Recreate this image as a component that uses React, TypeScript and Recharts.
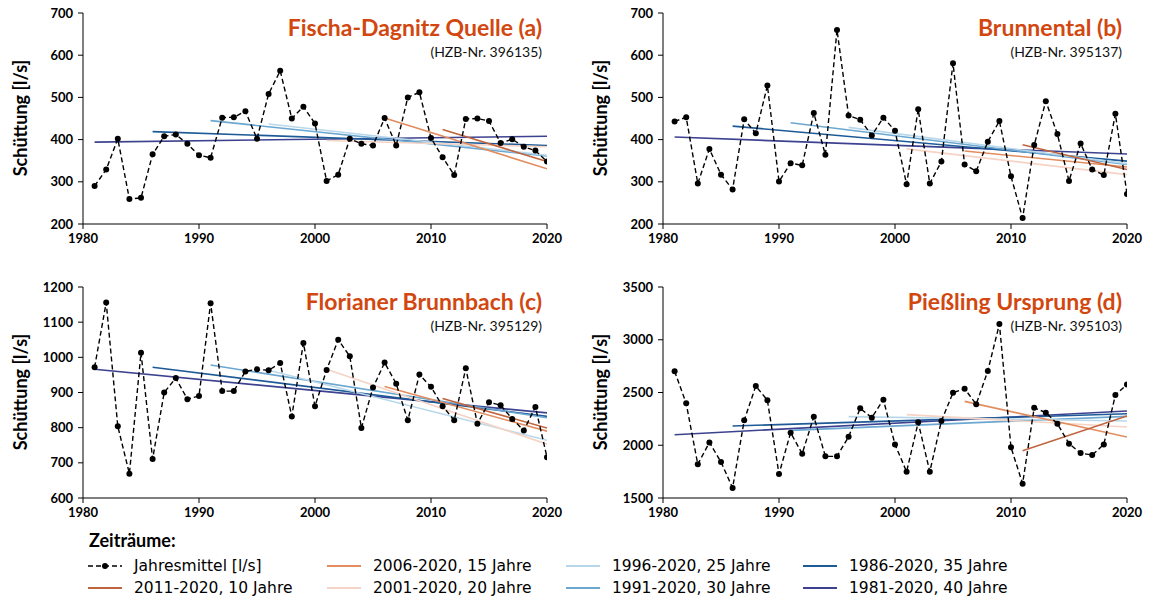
import React from 'react';
import { LineChart, Line, XAxis, YAxis } from 'recharts';

const YEARS = [
  1981, 1982, 1983, 1984, 1985, 1986, 1987, 1988, 1989, 1990,
  1991, 1992, 1993, 1994, 1995, 1996, 1997, 1998, 1999, 2000,
  2001, 2002, 2003, 2004, 2005, 2006, 2007, 2008, 2009, 2010,
  2011, 2012, 2013, 2014, 2015, 2016, 2017, 2018, 2019, 2020,
];

// Jahresmittel [l/s]
const FISCHA = [
  290, 329, 402, 259, 262, 365, 408, 412, 390, 363,
  357, 452, 453, 467, 402, 508, 563, 450, 478, 438,
  302, 317, 402, 390, 386, 451, 386, 500, 512, 404,
  358, 316, 449, 450, 444, 392, 401, 383, 374, 348,
];
const BRUNNENTAL = [
  443, 453, 296, 378, 317, 282, 448, 415, 528, 301,
  344, 339, 463, 364, 660, 457, 447, 410, 452, 421,
  294, 472, 296, 348, 581, 341, 325, 395, 444, 313,
  214, 387, 491, 413, 302, 391, 329, 316, 461, 271,
];
const FLORIANER = [
  972, 1156, 804, 669, 1013, 711, 900, 941, 881, 890,
  1154, 904, 904, 960, 966, 963, 984, 832, 1041, 861,
  964, 1050, 1003, 799, 914, 985, 925, 821, 951, 916,
  861, 821, 969, 811, 872, 864, 825, 792, 859, 716,
];
const PIESSLING = [
  2701, 2397, 1819, 2027, 1841, 1595, 2236, 2562, 2426, 1727,
  2119, 1920, 2271, 1895, 1895, 2081, 2350, 2261, 2432, 2008,
  1749, 2217, 1749, 2230, 2498, 2536, 2388, 2704, 3149, 1980,
  1636, 2356, 2309, 2204, 2015, 1926, 1907, 2008, 2476, 2577,
];

const PERIOD_START = [2011, 2006, 2001, 1996, 1991, 1986, 1981];
const PERIOD_LABELS = [
  '2011-2020, 10 Jahre', '2006-2020, 15 Jahre', '2001-2020, 20 Jahre', '1996-2020, 25 Jahre',
  '1991-2020, 30 Jahre', '1986-2020, 35 Jahre', '1981-2020, 40 Jahre',
];
const PERIOD_COLORS = ['#c0643d', '#e28d5f', '#f5d3c5', '#b8d7ea', '#6aa7d1', '#1d5a97', '#3d4290'];

// trend lines: [value at start year, value at 2020]
const TREND_A = [[424, 348], [451, 331], [398, 383], [437, 363], [445, 361], [419, 386], [394, 408]];
const TREND_B = [[388, 329], [373, 335], [378, 317], [429, 343], [440, 341], [432, 349], [406, 366]];
const TREND_C = [[883, 799], [917, 790], [966, 753], [963, 764], [978, 828], [972, 832], [966, 842]];
const TREND_D = [[1948, 2277], [2416, 2078], [2290, 2173], [2271, 2230], [2141, 2274], [2182, 2299], [2100, 2325]];

const X_TICKS = [1980, 1990, 2000, 2010, 2020];
const TICKS_AB = [200, 300, 400, 500, 600, 700];
const TICKS_C = [600, 700, 800, 900, 1000, 1100, 1200];
const TICKS_D = [1500, 2000, 2500, 3000, 3500];

const TITLE_COLOR = '#d2470f';
const tickStyle = { fill: '#000', fontSize: 13, fontWeight: 700, fontFamily: 'Lato' };

function Panel({ left, top, values, trends, yTicks, title, hzb }) {
  const data = YEARS.map((y, i) => ({ year: y, v: values[i] }));
  const order = [6, 5, 4, 3, 2, 1, 0];
  return (
    <div style={{ position: 'absolute', left, top, width: 575, height: 254 }}>
      <LineChart width={575} height={254} data={data} margin={{ top: 13, right: 28, left: 43, bottom: 0 }}>
        <XAxis
          dataKey="year" type="number" domain={[1980, 2020]} ticks={X_TICKS}
          height={30} tickSize={5} tickMargin={5} tick={tickStyle}
          axisLine={{ stroke: '#000' }} tickLine={{ stroke: '#000' }} allowDataOverflow
        />
        <YAxis
          type="number" domain={[yTicks[0], yTicks[yTicks.length - 1]]} ticks={yTicks}
          width={40} tickSize={5} tickMargin={5} tick={tickStyle}
          axisLine={{ stroke: '#000' }} tickLine={{ stroke: '#000' }} allowDataOverflow
        />
        {order.map((k) => (
          <Line
            key={k}
            data={[{ year: PERIOD_START[k], v: trends[k][0] }, { year: 2020, v: trends[k][1] }]}
            dataKey="v" stroke={PERIOD_COLORS[k]} strokeWidth={1.6} dot={false}
            isAnimationActive={false}
          />
        ))}
        <Line
          dataKey="v" stroke="#000" strokeWidth={1.4} strokeDasharray="5 3"
          dot={{ r: 3, fill: '#000', stroke: 'none' }} isAnimationActive={false}
        />
      </LineChart>
      <div style={{
        position: 'absolute', left: 20 - 100, top: 13 + 105 - 12, width: 200, height: 24,
        lineHeight: '24px', textAlign: 'center', transform: 'rotate(-90deg)',
        fontFamily: 'Lato', fontWeight: 700, fontSize: 18, color: '#000',
      }}>Schüttung [l/s]</div>
      <div style={{
        position: 'absolute', right: 575 - 542, top: 12, whiteSpace: 'nowrap',
        fontFamily: 'Lato', fontWeight: 700, fontSize: 23, color: TITLE_COLOR, lineHeight: '30px',
      }}>{title}</div>
      <div style={{
        position: 'absolute', right: 575 - 542, top: 43, whiteSpace: 'nowrap',
        fontFamily: 'Lato', fontSize: 14, color: '#111', lineHeight: '18px',
      }}>{hzb}</div>
    </div>
  );
}

function LegendItem({ x, y, color, label, dashed }) {
  return (
    <div style={{ position: 'absolute', left: x, top: y - 11, height: 22, whiteSpace: 'nowrap' }}>
      <svg width={36} height={22} style={{ position: 'absolute', left: 0, top: 0 }}>
        {dashed ? (
          <g>
            <line x1={1} y1={11} x2={35} y2={11} stroke="#000" strokeWidth={1.5} strokeDasharray="5 3" />
            <circle cx={18} cy={11} r={3} fill="#000" />
          </g>
        ) : (
          <line x1={1} y1={11} x2={35} y2={11} stroke={color} strokeWidth={2} />
        )}
      </svg>
      <span style={{
        position: 'absolute', left: 47, top: 0, lineHeight: '22px',
        fontFamily: 'DejaVu Sans', fontSize: 15.5, color: '#000',
      }}>{label}</span>
    </div>
  );
}

export default function App() {
  const cols = [87, 326, 565, 802];
  return (
    <div style={{ position: 'absolute', left: 0, top: 0, width: 1149, height: 600, background: '#fff', overflow: 'hidden' }}>
      <Panel left={0} top={0} values={FISCHA} trends={TREND_A} yTicks={TICKS_AB}
        title="Fischa-Dagnitz Quelle (a)" hzb="(HZB-Nr. 396135)" />
      <Panel left={580} top={0} values={BRUNNENTAL} trends={TREND_B} yTicks={TICKS_AB}
        title="Brunnental (b)" hzb="(HZB-Nr. 395137)" />
      <Panel left={0} top={274} values={FLORIANER} trends={TREND_C} yTicks={TICKS_C}
        title="Florianer Brunnbach (c)" hzb="(HZB-Nr. 395129)" />
      <Panel left={580} top={274} values={PIESSLING} trends={TREND_D} yTicks={TICKS_D}
        title="Pießling Ursprung (d)" hzb="(HZB-Nr. 395103)" />
      <div style={{
        position: 'absolute', left: 89, top: 527, fontFamily: 'Lato', fontWeight: 700,
        fontSize: 18, lineHeight: '26px', color: '#000',
      }}>Zeiträume:</div>
      <LegendItem x={cols[0]} y={566} dashed label="Jahresmittel [l/s]" />
      <LegendItem x={cols[1]} y={566} color={PERIOD_COLORS[1]} label={PERIOD_LABELS[1]} />
      <LegendItem x={cols[2]} y={566} color={PERIOD_COLORS[3]} label={PERIOD_LABELS[3]} />
      <LegendItem x={cols[3]} y={566} color={PERIOD_COLORS[5]} label={PERIOD_LABELS[5]} />
      <LegendItem x={cols[0]} y={588} color={PERIOD_COLORS[0]} label={PERIOD_LABELS[0]} />
      <LegendItem x={cols[1]} y={588} color={PERIOD_COLORS[2]} label={PERIOD_LABELS[2]} />
      <LegendItem x={cols[2]} y={588} color={PERIOD_COLORS[4]} label={PERIOD_LABELS[4]} />
      <LegendItem x={cols[3]} y={588} color={PERIOD_COLORS[6]} label={PERIOD_LABELS[6]} />
    </div>
  );
}
